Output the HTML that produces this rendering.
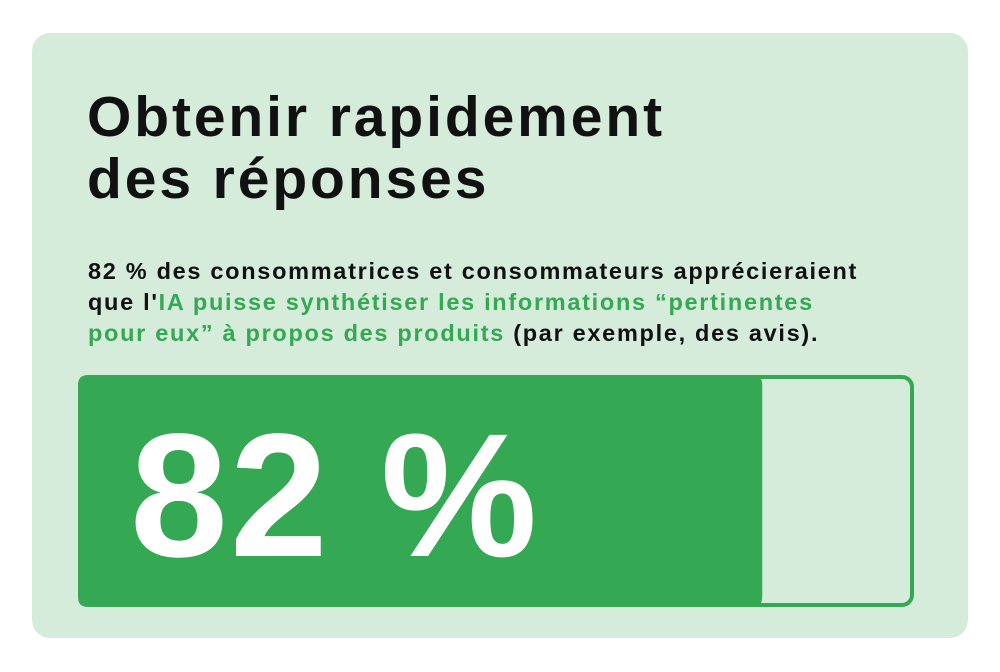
<!DOCTYPE html>
<html><head><meta charset="utf-8"><style>
html,body{margin:0;padding:0;background:#fff;width:1000px;height:672px;overflow:hidden;font-family:"Liberation Sans",sans-serif}
.card{position:absolute;left:32px;top:33px;width:936px;height:605px;background:#d4ecd9;border-radius:18px}
.title{position:absolute;left:87px;top:86px;font-size:57px;font-weight:bold;line-height:62px;color:#111;letter-spacing:2.9px;margin:0}
.desc{position:absolute;left:88px;top:256px;font-size:23.5px;font-weight:bold;line-height:31px;color:#111;margin:0;letter-spacing:1.7px}
.desc .g{color:#34a853}
</style></head><body>
<div class="card"></div>
<h1 class="title">Obtenir rapidement<br>des réponses</h1>
<p class="desc">82 % des consommatrices et consommateurs apprécieraient<br>que l'<span class="g">IA puisse synthétiser les informations “pertinentes<br>pour eux” à propos des produits</span> (par exemple, des avis).</p>
<svg id="chart" width="1000" height="672" style="position:absolute;left:0;top:0"></svg>
<script>
const categories = ["consumers"];
const values = [82];
const labels = ["82 %"];
const svg = document.getElementById('chart');
const NS = 'http://www.w3.org/2000/svg';
const x0 = 80, x1 = 912, y0 = 377, y1 = 605;
const xScale = v => x0 + (x1 - x0) * v / 100;
const outline = document.createElementNS(NS, 'rect');


outline.setAttribute('x', x0); outline.setAttribute('y', y0);
outline.setAttribute('width', x1 - x0); outline.setAttribute('height', y1 - y0);
outline.setAttribute('rx', 10); outline.setAttribute('fill', 'none');
outline.setAttribute('stroke', '#34a853'); outline.setAttribute('stroke-width', 4);
svg.appendChild(outline);
values.forEach((v, i) => {
  const w = xScale(v) - x0;
  const bar = document.createElementNS(NS, 'path');
  
  
  const r = 10, xe = x0 + w;
  bar.setAttribute('d', `M${x0-2+r},${y0-2} L${xe-r},${y0-2} Q${xe},${y0-2} ${xe},${y0-2+r} L${xe},${y1+2-r} Q${xe},${y1+2} ${xe-r},${y1+2} L${x0-2+r},${y1+2} Q${x0-2},${y1+2} ${x0-2},${y1+2-r} L${x0-2},${y0-2+r} Q${x0-2},${y0-2} ${x0-2+r},${y0-2} Z`);
  bar.setAttribute('fill', '#34a853');
  svg.appendChild(bar);
  const t = document.createElementNS(NS, 'text');
  
  
  t.setAttribute('x', 130); t.setAttribute('y', 556);
  t.setAttribute('fill', '#fff'); t.setAttribute('font-size', 176);
  t.setAttribute('font-weight', 'bold');
  t.setAttribute('letter-spacing', 2);
  t.setAttribute('font-family', '"Liberation Sans", sans-serif');
  t.textContent = labels[i];
  svg.appendChild(t);
});
</script>
</body></html>
